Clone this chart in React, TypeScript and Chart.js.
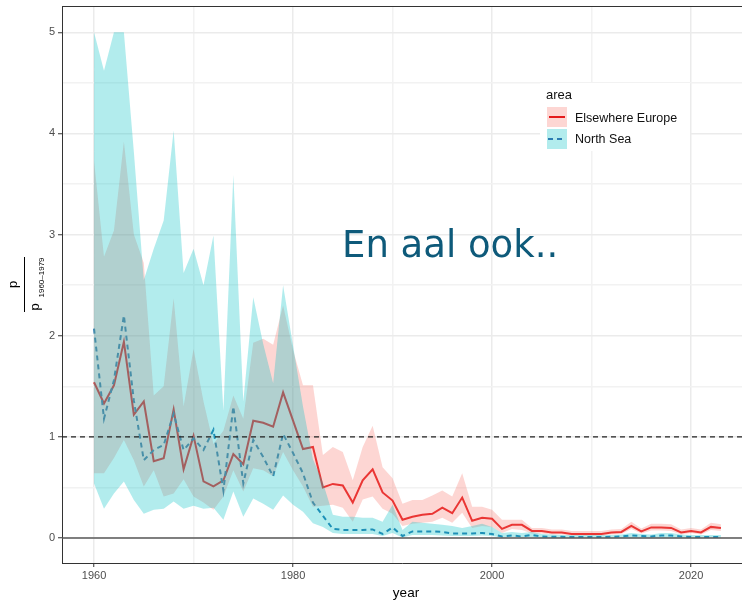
import React, { useEffect, useRef } from "react";
import { Chart, registerables } from "chart.js";

Chart.register(...registerables);

const years = [
  1960, 1961, 1962, 1963, 1964, 1965, 1966, 1967, 1968, 1969,
  1970, 1971, 1972, 1973, 1974, 1975, 1976, 1977, 1978, 1979,
  1980, 1981, 1982, 1983, 1984, 1985, 1986, 1987, 1988, 1989,
  1990, 1991, 1992, 1993, 1994, 1995, 1996, 1997, 1998, 1999,
  2000, 2001, 2002, 2003, 2004, 2005, 2006, 2007, 2008, 2009,
  2010, 2011, 2012, 2013, 2014, 2015, 2016, 2017, 2018, 2019,
  2020, 2021, 2022, 2023,
];

const elsewhereMean = [
  1.54, 1.33, 1.51, 1.94, 1.22, 1.35, 0.76, 0.79, 1.27, 0.68,
  1.01, 0.56, 0.51, 0.57, 0.83, 0.73, 1.16, 1.14, 1.1, 1.44,
  1.16, 0.88, 0.9, 0.5, 0.535, 0.52, 0.35, 0.57, 0.68, 0.45,
  0.37, 0.18, 0.21, 0.23, 0.24, 0.3, 0.245, 0.4, 0.17, 0.2,
  0.19, 0.09, 0.13, 0.13, 0.07, 0.07, 0.055, 0.055, 0.04, 0.04,
  0.04, 0.04, 0.055, 0.06, 0.12, 0.065, 0.105, 0.105, 0.1, 0.055,
  0.07, 0.055, 0.11, 0.1,
];

const elsewhereUpper = [
  3.73, 2.78, 3.04, 3.92, 3.0, 2.72, 1.41, 1.5, 2.37, 1.3,
  1.87, 1.35, 0.93, 1.06, 1.41, 1.18, 1.93, 1.97, 1.91, 2.3,
  1.86, 1.51, 1.51, 0.82, 0.9, 0.85, 0.57, 0.9, 1.11, 0.7,
  0.59, 0.34, 0.375, 0.375, 0.42, 0.47, 0.41, 0.64, 0.31, 0.31,
  0.28, 0.18, 0.18, 0.18, 0.1, 0.1, 0.085, 0.085, 0.07, 0.07,
  0.07, 0.07, 0.085, 0.09, 0.16, 0.095, 0.14, 0.14, 0.135, 0.085,
  0.1, 0.085, 0.15, 0.135,
];

const elsewhereLower = [
  0.64, 0.64, 0.79, 0.97, 0.77, 0.51, 0.67, 0.41, 0.44, 0.58,
  0.41, 0.35, 0.28, 0.41, 0.67, 0.46, 0.69, 0.67, 0.61, 0.85,
  0.67, 0.51, 0.31, 0.32, 0.33, 0.3, 0.16, 0.38, 0.41, 0.29,
  0.24, 0.12, 0.14, 0.15, 0.16, 0.2, 0.15, 0.25, 0.1, 0.12,
  0.11, 0.05, 0.09, 0.08, 0.045, 0.045, 0.035, 0.035, 0.025, 0.025,
  0.025, 0.025, 0.035, 0.04, 0.09, 0.045, 0.075, 0.075, 0.07, 0.035,
  0.05, 0.035, 0.08, 0.07,
];

const northSeaMean = [
  2.07, 1.18, 1.56, 2.2, 1.36, 0.77, 0.87, 0.92, 1.23, 0.87,
  0.985, 0.87, 1.07, 0.47, 1.3, 0.54, 0.97, 0.8, 0.61, 1.03,
  0.84, 0.64, 0.35, 0.22, 0.09, 0.08, 0.08, 0.08, 0.085, 0.04,
  0.105, 0.02, 0.065, 0.065, 0.065, 0.06, 0.045, 0.045, 0.045, 0.05,
  0.04, 0.015, 0.025, 0.015, 0.03, 0.015, 0.012, 0.012, 0.01, 0.01,
  0.01, 0.01, 0.012, 0.015, 0.025, 0.02, 0.015, 0.025, 0.025, 0.015,
  0.01, 0.01, 0.01, 0.01,
];

const northSeaUpper = [
  5.0, 4.62, 5.0, 5.0, 3.82, 2.55, 2.86, 3.14, 4.03, 2.62,
  2.86, 2.5, 2.99, 1.26, 3.59, 1.35, 2.38, 1.92, 1.53, 2.5,
  1.9, 1.3, 0.78, 0.55, 0.23, 0.21, 0.21, 0.2, 0.2, 0.16,
  0.33, 0.08, 0.16, 0.15, 0.14, 0.13, 0.12, 0.1, 0.12, 0.14,
  0.11, 0.05, 0.06, 0.05, 0.06, 0.04, 0.035, 0.03, 0.03, 0.03,
  0.03, 0.03, 0.03, 0.035, 0.05, 0.04, 0.035, 0.05, 0.05, 0.035,
  0.03, 0.03, 0.03, 0.03,
];

const northSeaLower = [
  0.54, 0.29, 0.44, 0.56, 0.375, 0.24, 0.28, 0.29, 0.36, 0.29,
  0.32, 0.29, 0.3, 0.18, 0.46, 0.21, 0.39, 0.34, 0.28, 0.42,
  0.33, 0.26, 0.145, 0.11, 0.05, 0.04, 0.04, 0.04, 0.04, 0.02,
  0.05, 0.005, 0.03, 0.03, 0.03, 0.025, 0.02, 0.02, 0.02, 0.025,
  0.02, 0.005, 0.01, 0.005, 0.01, 0.003, 0.003, 0.003, 0.003, 0.003,
  0.003, 0.003, 0.003, 0.003, 0.003, 0.003, 0.003, 0.003, 0.003, 0.003,
  0.003, 0.003, 0.003, 0.003,
];

const xGridYears = [1960, 1970, 1980, 1990, 2000, 2010, 2020];
const xLabelYears = [1960, 1980, 2000, 2020];
const yGridValues = [0, 0.5, 1, 1.5, 2, 2.5, 3, 3.5, 4, 4.5, 5];
const yLabelValues = [0, 1, 2, 3, 4, 5];
const seriesNames = ["Elsewhere Europe", "North Sea"];
const legendTitle = "area";
const xTitle = "year";
const yTitleNum = "p";
const yTitleDen = "p";
const yTitleSub = "1960\u20131979";
const annotationText = "En aal ook..";
const referenceLine = 1;
const zeroLine = 0;

const RED = "#E41A1C";
const BLUE = "#2A7CB2";
const PINK_FILL = "rgba(248,118,109,0.3)";
const CYAN_FILL = "rgba(0,191,196,0.3)";
const SANS = "'Liberation Sans', Arial, sans-serif";

export default function App() {
  const ref = useRef<HTMLCanvasElement | null>(null);

  useEffect(() => {
    const canvas = ref.current;
    if (!canvas) return;
    const pts = (arr: number[]) => years.map((x, i) => ({ x, y: arr[i] }));

    const overlay = {
      id: "overlay",
      afterDatasetsDraw(chart: any) {
        const { ctx, chartArea, scales } = chart;
        const y = scales.y;
        ctx.save();
        ctx.beginPath();
        ctx.rect(chartArea.left, chartArea.top, chartArea.right - chartArea.left, chartArea.bottom - chartArea.top);
        ctx.clip();
        const y0 = y.getPixelForValue(zeroLine);
        ctx.strokeStyle = "#5a5a5a";
        ctx.lineWidth = 1.5;
        ctx.beginPath();
        ctx.moveTo(chartArea.left, y0);
        ctx.lineTo(chartArea.right, y0);
        ctx.stroke();
        const y1 = y.getPixelForValue(referenceLine);
        ctx.strokeStyle = "#222";
        ctx.lineWidth = 1.2;
        ctx.setLineDash([5, 4]);
        ctx.beginPath();
        ctx.moveTo(chartArea.left, y1);
        ctx.lineTo(chartArea.right, y1);
        ctx.stroke();
        ctx.setLineDash([]);
        ctx.restore();
      },
      afterDraw(chart: any) {
        const { ctx, chartArea } = chart;
        ctx.save();
        ctx.strokeStyle = "#333";
        ctx.lineWidth = 1;
        ctx.beginPath();
        ctx.moveTo(chartArea.left, chartArea.top + 0.5);
        ctx.lineTo(chartArea.right, chartArea.top + 0.5);
        ctx.stroke();

        // legend
        ctx.fillStyle = "#fff";
        ctx.fillRect(540, 83, 150, 68);
        ctx.fillStyle = "#111";
        ctx.textBaseline = "middle";
        ctx.textAlign = "left";
        ctx.font = `13px ${SANS}`;
        ctx.fillText(legendTitle, 546, 95);
        ctx.fillStyle = PINK_FILL;
        ctx.fillRect(547, 107, 20, 20);
        ctx.strokeStyle = RED;
        ctx.lineWidth = 2;
        ctx.beginPath();
        ctx.moveTo(549, 117);
        ctx.lineTo(565, 117);
        ctx.stroke();
        ctx.fillStyle = CYAN_FILL;
        ctx.fillRect(547, 129, 20, 20);
        ctx.strokeStyle = BLUE;
        ctx.setLineDash([5, 4]);
        ctx.beginPath();
        ctx.moveTo(548, 139);
        ctx.lineTo(566, 139);
        ctx.stroke();
        ctx.setLineDash([]);
        ctx.fillStyle = "#111";
        ctx.font = `12.5px ${SANS}`;
        ctx.fillText(seriesNames[0], 575, 119);
        ctx.fillText(seriesNames[1], 575, 140);

        // annotation
        ctx.fillStyle = "#0E5A7A";
        ctx.font = `37px 'DejaVu Sans', Verdana, sans-serif`;
        ctx.textBaseline = "alphabetic";
        ctx.fillText(annotationText, 342, 257);

        // x title
        ctx.fillStyle = "#000";
        ctx.font = `13.5px ${SANS}`;
        ctx.textAlign = "center";
        ctx.textBaseline = "middle";
        ctx.fillText(xTitle, 406, 593);

        // y title (fraction)
        ctx.translate(24, 284.5);
        ctx.rotate(-Math.PI / 2);
        ctx.fillStyle = "#000";
        ctx.textBaseline = "alphabetic";
        ctx.textAlign = "center";
        ctx.font = `13px ${SANS}`;
        ctx.fillText(yTitleNum, 0, -7);
        ctx.strokeStyle = "#000";
        ctx.lineWidth = 1;
        ctx.beginPath();
        ctx.moveTo(-27.5, 0.5);
        ctx.lineTo(27.5, 0.5);
        ctx.stroke();
        ctx.textAlign = "left";
        ctx.fillText(yTitleDen, -26, 15);
        ctx.font = `8px ${SANS}`;
        ctx.fillText(yTitleSub, -13, 20);
        ctx.restore();
      },
    };

    const hidden = {
      borderColor: "rgba(0,0,0,0)",
      borderWidth: 0,
      pointRadius: 0,
      fill: false,
    };

    const chart = new Chart(canvas, {
      type: "line",
      data: {
        datasets: [
          {
            label: seriesNames[0],
            data: pts(elsewhereMean),
            borderColor: RED,
            borderWidth: 2,
            pointRadius: 0,
            fill: false,
            order: 5,
          },
          {
            label: seriesNames[1],
            data: pts(northSeaMean),
            borderColor: BLUE,
            borderWidth: 2,
            borderDash: [5, 4],
            pointRadius: 0,
            fill: false,
            order: 4,
          },
          { label: "ee_lo", data: pts(elsewhereLower), ...hidden, order: 10 },
          {
            label: "ee_hi",
            data: pts(elsewhereUpper),
            ...hidden,
            fill: 2,
            backgroundColor: PINK_FILL,
            order: 3,
          },
          { label: "ns_lo", data: pts(northSeaLower), ...hidden, order: 10 },
          {
            label: "ns_hi",
            data: pts(northSeaUpper),
            ...hidden,
            fill: 4,
            backgroundColor: CYAN_FILL,
            order: 2,
          },
        ] as any,
      },
      options: {
        animation: false,
        responsive: false,
        devicePixelRatio: 1,
        layout: { padding: { top: 6, right: 0, left: 0, bottom: 0 } },
        plugins: { legend: { display: false }, tooltip: { enabled: false } },
        elements: { line: { tension: 0 } },
        scales: {
          x: {
            type: "linear",
            min: 1956.78,
            max: 2025.12,
            afterBuildTicks: (s: any) => {
              s.ticks = xGridYears.map((v) => ({ value: v }));
            },
            afterFit: (s: any) => {
              s.height = 38;
              s.paddingLeft = 0;
              s.paddingRight = 0;
            },
            ticks: {
              autoSkip: false,
              maxRotation: 0,
              padding: 2,
              color: "#4d4d4d",
              font: { family: SANS, size: 11 },
              callback: (v: any) => (xLabelYears.includes(Number(v)) ? String(v) : ""),
            },
            grid: {
              color: (c: any) => (xLabelYears.includes(c.tick?.value) ? "#ebebeb" : "#f2f2f2"),
              lineWidth: 1.5,
              tickLength: 4,
              tickWidth: 1,
              tickColor: (c: any) => (xLabelYears.includes(c.tick?.value) ? "#333" : "rgba(0,0,0,0)"),
            },
            border: { display: true, color: "#333", width: 1 },
          },
          y: {
            type: "linear",
            min: -0.247,
            max: 5.26,
            afterBuildTicks: (s: any) => {
              s.ticks = yGridValues.map((v) => ({ value: v }));
            },
            afterFit: (s: any) => {
              s.width = 62;
              s.paddingTop = 0;
              s.paddingBottom = 0;
            },
            ticks: {
              autoSkip: false,
              padding: 3,
              color: "#4d4d4d",
              font: { family: SANS, size: 11 },
              callback: (v: any) => (yLabelValues.includes(Number(v)) ? String(v) : ""),
            },
            grid: {
              color: (c: any) => (yLabelValues.includes(c.tick?.value) ? "#ebebeb" : "#f2f2f2"),
              lineWidth: 1.5,
              tickLength: 4,
              tickWidth: 1,
              tickColor: (c: any) => (yLabelValues.includes(c.tick?.value) ? "#333" : "rgba(0,0,0,0)"),
            },
            border: { display: true, color: "#333", width: 1 },
          },
        },
      } as any,
      plugins: [overlay],
    });

    return () => chart.destroy();
  }, []);

  return (
    <div style={{ position: "fixed", left: 0, top: 0, width: 742, height: 601, background: "#fff" }}>
      <canvas ref={ref} width={742} height={601} style={{ display: "block" }} />
    </div>
  );
}
